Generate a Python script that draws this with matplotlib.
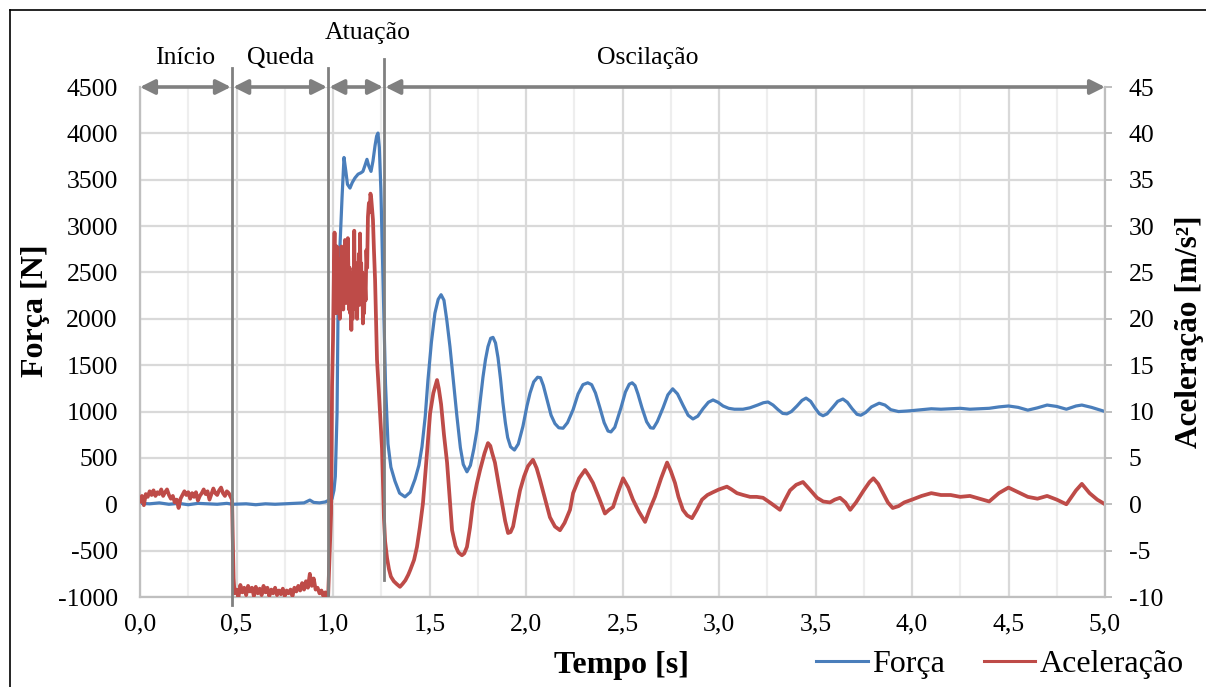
import matplotlib.pyplot as plt
from matplotlib.lines import Line2D
from matplotlib.ticker import MultipleLocator

plt.rcParams['font.family'] = ['Liberation Serif', 'DejaVu Serif']
plt.rcParams['axes.unicode_minus'] = False

# Força [N]
t_forca = [0.00, 0.05, 0.10, 0.15, 0.20, 0.25, 0.30, 0.35, 0.40, 0.45, 0.48, 0.55, 0.60, 0.65,
           0.70, 0.75, 0.80, 0.85, 0.88, 0.90, 0.93, 0.96, 0.975, 0.995, 1.005, 1.012, 1.021,
           1.026, 1.036, 1.047, 1.057, 1.066, 1.075, 1.088, 1.100, 1.114, 1.130, 1.145, 1.155,
           1.165, 1.176, 1.185, 1.197, 1.207, 1.218, 1.226, 1.233, 1.240, 1.248, 1.256, 1.264,
           1.272, 1.285, 1.300, 1.321, 1.345, 1.373, 1.400, 1.425, 1.445, 1.461, 1.478, 1.492,
           1.510, 1.528, 1.545, 1.560, 1.575, 1.590, 1.606, 1.625, 1.642, 1.660, 1.675, 1.694,
           1.712, 1.730, 1.746, 1.762, 1.777, 1.790, 1.803, 1.817, 1.829, 1.842, 1.855, 1.868,
           1.880, 1.893, 1.905, 1.920, 1.940, 1.960, 1.984, 2.005, 2.021, 2.040, 2.060, 2.075,
           2.090, 2.110, 2.130, 2.150, 2.170, 2.192, 2.215, 2.244, 2.270, 2.295, 2.320, 2.340,
           2.360, 2.383, 2.405, 2.425, 2.440, 2.460, 2.492, 2.515, 2.535, 2.550, 2.565, 2.580,
           2.601, 2.625, 2.645, 2.660, 2.680, 2.710, 2.735, 2.760, 2.785, 2.813, 2.840, 2.865,
           2.890, 2.917, 2.945, 2.969, 2.995, 3.021, 3.050, 3.080, 3.124, 3.160, 3.200, 3.230,
           3.254, 3.280, 3.306, 3.330, 3.352, 3.375, 3.404, 3.430, 3.451, 3.475, 3.497, 3.520,
           3.539, 3.560, 3.591, 3.615, 3.642, 3.665, 3.690, 3.715, 3.735, 3.760, 3.790, 3.830,
           3.860, 3.890, 3.930, 3.970, 4.000, 4.050, 4.100, 4.150, 4.200, 4.250, 4.300, 4.350,
           4.400, 4.450, 4.500, 4.550, 4.600, 4.650, 4.700, 4.750, 4.800, 4.850, 4.880, 4.930,
           4.970, 5.000]
forca = [10, 5, 15, 0, 10, -5, 10, 5, 0, 10, 0, 5, -5, 5,
         0, 5, 10, 15, 45, 20, 15, 25, 40, 60, 150, 300, 985,
         2063, 2780, 3315, 3740, 3600, 3450, 3410, 3470, 3520, 3560, 3575, 3590,
         3650, 3720, 3650, 3590, 3700, 3870, 3970, 4003, 3850, 3400, 2700, 1990,
         1300, 650, 400, 250, 120, 80, 130, 270, 420, 620, 950, 1340,
         1750, 2060, 2210, 2260, 2200, 1980, 1700, 1300, 950, 610, 430, 350,
         420, 600, 800, 1100, 1370, 1560, 1700, 1790, 1800, 1740, 1580, 1350,
         1100, 880, 720, 620, 585, 650, 840, 1060, 1200, 1320, 1370, 1365,
         1280, 1120, 960, 870, 825, 820, 880, 1020, 1190, 1290, 1310, 1290,
         1200, 1040, 880, 790, 780, 830, 1040, 1210, 1295, 1310, 1280, 1190,
         1040, 890, 825, 820, 890, 1040, 1180, 1245, 1190, 1070, 960, 920,
         950, 1030, 1100, 1125, 1100, 1060, 1035, 1025, 1025, 1040, 1070, 1095,
         1103, 1070, 1020, 980, 975, 1000, 1060, 1120, 1145, 1110, 1040, 975,
         955, 975, 1050, 1110, 1135, 1100, 1030, 970, 960, 990, 1050, 1090,
         1070, 1020, 1000, 1005, 1010, 1020, 1030, 1025, 1030, 1035, 1025, 1030,
         1035, 1050, 1060, 1045, 1015, 1040, 1070, 1055, 1025, 1060, 1070, 1045,
         1020, 1000]

# Aceleração [m/s²], por fase
t_acel_inicio = [0.00, 0.01, 0.02, 0.03, 0.04, 0.05, 0.06, 0.07, 0.08, 0.09, 0.10, 0.11,
                 0.12, 0.13, 0.14, 0.15, 0.16, 0.17, 0.18, 0.19, 0.20, 0.21, 0.22, 0.23,
                 0.24, 0.25, 0.26, 0.27, 0.28, 0.29, 0.30, 0.31, 0.32, 0.33, 0.34, 0.35,
                 0.36, 0.37, 0.38, 0.39, 0.40, 0.41, 0.42, 0.43, 0.44, 0.45, 0.46, 0.47]
acel_inicio = [0.3, 0.9, -0.1, 1.1, 0.8, 1.4, 1.0, 1.5, 0.9, 1.3, 1.1, 1.6,
               0.9, 1.3, 1.6, 1.0, 0.6, 0.9, 0.2, 0.5, -0.4, 0.6, 1.0, 1.4,
               1.0, 1.3, 0.6, 1.2, 0.8, 1.3, 0.4, 0.9, 1.2, 1.6, 1.1, 1.4,
               0.5, 1.1, 1.7, 1.2, 1.0, 1.5, 1.8, 1.2, 0.9, 1.4, 1.2, 0.8]

t_acel_queda = [0.477, 0.480, 0.485, 0.49, 0.50, 0.51, 0.52, 0.53, 0.54, 0.55, 0.56, 0.57,
                0.58, 0.59, 0.60, 0.61, 0.62, 0.63, 0.64, 0.65, 0.66, 0.67, 0.68, 0.69,
                0.70, 0.71, 0.72, 0.73, 0.74, 0.75, 0.76, 0.77, 0.78, 0.79, 0.80, 0.81,
                0.82, 0.83, 0.84, 0.85, 0.86, 0.87, 0.88, 0.89, 0.90, 0.91, 0.92, 0.93,
                0.94, 0.95, 0.96, 0.97, 0.975]
acel_queda = [0.5, -3.0, -8.0, -9.6, -9.2, -10.0, -8.7, -9.5, -9.0, -9.8, -8.8, -9.4,
              -9.0, -9.9, -8.9, -9.6, -9.1, -9.8, -8.8, -9.5, -9.0, -9.9, -9.2, -9.6,
              -9.0, -9.8, -9.3, -9.7, -9.1, -9.9, -9.3, -9.6, -9.2, -9.9, -9.0, -9.4,
              -8.8, -9.3, -8.5, -9.2, -8.3, -9.0, -7.5, -8.8, -8.0, -9.2, -9.0, -9.6,
              -9.3, -9.9, -9.5, -10.0, -9.8]

t_acel_atuacao = [0.984, 0.990, 0.995, 1.000, 1.005, 1.008, 1.011, 1.014, 1.017, 1.020,
                  1.023, 1.026, 1.029, 1.032, 1.035, 1.038, 1.041, 1.044, 1.047, 1.050,
                  1.053, 1.056, 1.059, 1.062, 1.065, 1.068, 1.071, 1.074, 1.077, 1.080,
                  1.083, 1.086, 1.089, 1.092, 1.095, 1.098, 1.101, 1.104, 1.107, 1.110,
                  1.113, 1.116, 1.119, 1.122, 1.125, 1.128, 1.131, 1.134, 1.137, 1.140,
                  1.143, 1.146, 1.149, 1.152, 1.155, 1.158, 1.161, 1.165, 1.169, 1.173,
                  1.177, 1.181, 1.186, 1.190, 1.194, 1.198, 1.202, 1.207, 1.212, 1.218,
                  1.223, 1.228, 1.238, 1.254, 1.264]
acel_atuacao = [-4.6, -1.0, 12.7, 17.7, 26.0, 29.3, 21.0, 27.0, 20.6, 27.8,
                22.5, 26.5, 21.5, 25.0, 20.0, 26.0, 23.0, 27.8, 22.0, 25.5,
                21.0, 27.0, 23.0, 28.5, 24.0, 21.7, 26.0, 22.0, 28.7, 24.5,
                21.0, 25.5, 20.6, 23.0, 18.8, 24.0, 20.0, 25.0, 22.0, 29.5,
                23.0, 26.0, 21.0, 25.5, 20.0, 26.0, 22.5, 27.0, 21.5, 29.2,
                24.0, 26.0, 22.4, 25.0, 19.5, 23.0, 20.6, 24.0, 22.0, 27.4,
                25.5, 31.0, 32.5, 31.5, 33.5, 33.0, 32.0, 30.7, 27.5, 24.2,
                20.0, 15.6, 12.0, 6.0, -1.5]

t_acel_oscilacao = [1.270, 1.280, 1.290, 1.300, 1.315, 1.330, 1.347, 1.360, 1.375, 1.390,
                    1.400, 1.420, 1.435, 1.450, 1.466, 1.485, 1.503, 1.520, 1.539, 1.548,
                    1.560, 1.575, 1.591, 1.605, 1.617, 1.635, 1.650, 1.668, 1.680, 1.694,
                    1.710, 1.725, 1.745, 1.762, 1.785, 1.803, 1.815, 1.825, 1.839, 1.858,
                    1.876, 1.892, 1.907, 1.920, 1.933, 1.950, 1.969, 1.990, 2.010, 2.036,
                    2.055, 2.073, 2.100, 2.124, 2.150, 2.176, 2.200, 2.228, 2.244, 2.275,
                    2.306, 2.325, 2.347, 2.380, 2.409, 2.430, 2.451, 2.475, 2.503, 2.530,
                    2.554, 2.585, 2.617, 2.640, 2.668, 2.700, 2.731, 2.750, 2.772, 2.790,
                    2.813, 2.835, 2.860, 2.885, 2.912, 2.940, 2.969, 3.000, 3.041, 3.065,
                    3.093, 3.125, 3.161, 3.195, 3.228, 3.270, 3.316, 3.340, 3.368, 3.400,
                    3.435, 3.470, 3.508, 3.540, 3.575, 3.600, 3.627, 3.655, 3.680, 3.710,
                    3.750, 3.780, 3.800, 3.825, 3.850, 3.875, 3.900, 3.930, 3.960, 4.000,
                    4.050, 4.100, 4.150, 4.200, 4.250, 4.300, 4.350, 4.400, 4.450, 4.500,
                    4.550, 4.600, 4.650, 4.700, 4.750, 4.800, 4.850, 4.880, 4.920, 4.960,
                    5.000]
acel_oscilacao = [-4.0, -5.8, -7.0, -7.8, -8.3, -8.6, -8.9, -8.6, -8.2, -7.6,
                  -7.1, -6.0, -4.6, -2.5, 0.1, 5.0, 9.8, 12.0, 13.4, 12.5,
                  10.8, 7.5, 4.5, 0.5, -2.8, -4.5, -5.2, -5.5, -5.3, -4.6,
                  -2.5, 0.1, 2.2, 3.7, 5.5, 6.6, 6.3, 5.5, 4.5, 2.2,
                  0.1, -1.8, -3.1, -3.0, -2.4, -0.5, 1.5, 3.0, 4.1, 4.8,
                  3.9, 2.6, 0.5, -1.4, -2.4, -2.8, -2.0, -0.6, 1.2, 2.8,
                  3.7, 3.1, 2.3, 0.6, -1.0, -0.6, -0.3, 1.2, 2.8, 1.8,
                  0.5, -0.8, -1.9, -0.6, 0.8, 2.8, 4.5, 3.6, 2.3, 0.8,
                  -0.6, -1.2, -1.5, -0.6, 0.5, 1.0, 1.3, 1.6, 1.9, 1.6,
                  1.2, 1.0, 0.8, 0.8, 0.7, 0.1, -0.6, 0.4, 1.5, 2.1,
                  2.4, 1.6, 0.7, 0.3, 0.2, 0.5, 0.7, 0.2, -0.6, 0.2,
                  1.5, 2.4, 2.8, 2.2, 1.2, 0.2, -0.4, -0.2, 0.2, 0.5,
                  0.9, 1.2, 1.0, 1.0, 0.8, 0.9, 0.6, 0.3, 1.2, 1.8,
                  1.3, 0.8, 0.6, 0.9, 0.5, 0.0, 1.5, 2.2, 1.2, 0.5,
                  0.0]

# fases do ensaio
fases = ['Início', 'Queda', 'Atuação', 'Oscilação']
limites = [0.0, 0.477, 0.975, 1.265, 5.0]
pos_rotulo = [0.233, 0.730, 1.180, 2.630]
alt_rotulo = [4810, 4810, 5080, 4810]
sep_topo = [4700, 4700, 4800]
sep_base = [-1090, -980, -820]

x_ticks = [0.0, 0.5, 1.0, 1.5, 2.0, 2.5, 3.0, 3.5, 4.0, 4.5, 5.0]
y_ticks = list(range(-1000, 4501, 500))
y2_ticks = list(range(-10, 46, 5))

azul = '#4a7ebb'
vermelho = '#be4b48'
cinza = '#808080'

t_acel = t_acel_inicio + t_acel_queda + t_acel_atuacao + t_acel_oscilacao
acel = acel_inicio + acel_queda + acel_atuacao + acel_oscilacao

fig = plt.figure(figsize=(12.06, 6.87), dpi=100)
ax = fig.add_axes([140 / 1206, 1 - 597 / 687, 965 / 1206, 510 / 687])
ax2 = ax.twinx()

ax.plot(t_forca, forca, color=azul, lw=2.3, solid_joinstyle='round')
ax2.plot(t_acel, acel, color=vermelho, lw=2.7, solid_joinstyle='round')

ax.set_xlim(0, 5)
ax.set_ylim(-1000, 4500)
ax2.set_ylim(-10, 45)

ax.set_xticks(x_ticks)
ax.set_xticklabels([f'{v:.1f}'.replace('.', ',') for v in x_ticks])
ax.xaxis.set_minor_locator(MultipleLocator(0.25))
ax.set_yticks(y_ticks)
ax2.set_yticks(y2_ticks)

ax.grid(True, which='major', axis='both', color='#d9d9d9', lw=1.6)
ax.grid(True, which='minor', axis='x', color='#eeeeee', lw=1.6)
ax.set_axisbelow(True)

for a in (ax, ax2):
    for s in a.spines.values():
        s.set_visible(False)
ax.spines['left'].set_visible(True)
ax.spines['bottom'].set_visible(True)
ax2.spines['right'].set_visible(True)
for s in (ax.spines['left'], ax.spines['bottom'], ax2.spines['right']):
    s.set_color('#bfbfbf')
    s.set_linewidth(1.6)

ax.tick_params(axis='x', which='both', length=0, pad=12, labelsize=18.5)
ax.tick_params(axis='y', length=0, pad=16, labelsize=18.5)
ax2.tick_params(axis='y', length=5, width=1.4, color='#bfbfbf', pad=12, labelsize=18.5)

fig.text(622 / 1206, 1 - 665 / 687, 'Tempo [s]', ha='center', va='center',
         fontsize=23, fontweight='bold')
fig.text(35 / 1206, 1 - 311 / 687, 'Força [N]', ha='center', va='center',
         rotation=90, fontsize=23, fontweight='bold')
fig.text(1190 / 1206, 1 - 332 / 687, 'Aceleração [m/s²]', ha='center', va='center',
         rotation=90, fontsize=22.5, fontweight='bold')

# separadores e setas das fases
for x, y0, y1 in zip(limites[1:-1], sep_base, sep_topo):
    ax2.add_line(Line2D([x, x], [y0, y1], transform=ax.transData, color=cinza,
                        lw=2, clip_on=False, zorder=5))

for i, nome in enumerate(fases):
    x0 = limites[i] + (0.006 if i > 0 else 0.0)
    x1 = limites[i + 1] - (0.006 if i < len(fases) - 1 else 0.0)
    ax2.annotate('', xy=(x1, 4500), xytext=(x0, 4500), xycoords=ax.transData,
                 textcoords=ax.transData, annotation_clip=False, zorder=6,
                 arrowprops=dict(arrowstyle='<|-|>', color=cinza, lw=2.6,
                                 mutation_scale=22, shrinkA=0, shrinkB=0))
    ax2.text(pos_rotulo[i], alt_rotulo[i], nome, transform=ax.transData, ha='center',
             va='center', fontsize=18.5, clip_on=False)

handles = [Line2D([], [], color=azul, lw=2.2), Line2D([], [], color=vermelho, lw=2.2)]
fig.legend(handles, ['Força', 'Aceleração'], loc='center', ncol=2,
           bbox_to_anchor=(1000 / 1206, 1 - 664 / 687), frameon=False, fontsize=23,
           handlelength=1.6, handletextpad=0.15, columnspacing=1.2, borderaxespad=0)

# moldura do gráfico
fig.add_artist(Line2D([10 / 1206, 10 / 1206], [0, 1 - 10 / 687], transform=fig.transFigure,
                      color='black', lw=1.2))
fig.add_artist(Line2D([10 / 1206, 1], [1 - 10 / 687, 1 - 10 / 687], transform=fig.transFigure,
                      color='black', lw=1.2))

fig.savefig('out.png', dpi=100)
